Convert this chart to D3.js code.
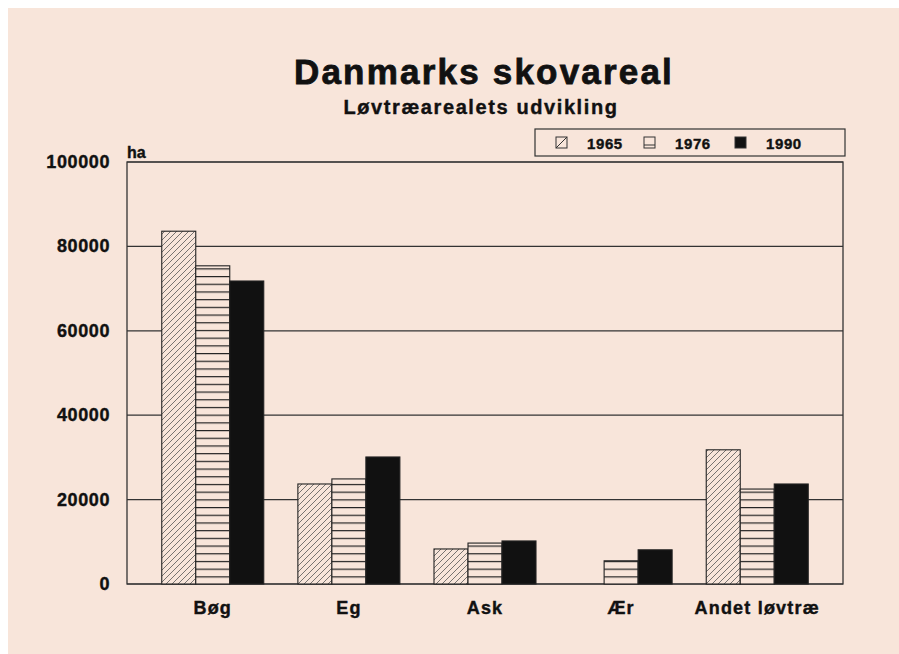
<!DOCTYPE html>
<html>
<head>
<meta charset="utf-8">
<script src="https://cdn.jsdelivr.net/npm/d3@7"></script>
<style>
  body { margin: 0; background: #fff; }
  svg { display: block; }
  text { font-family: "Liberation Sans", Arial, sans-serif; font-weight: bold; fill: #111; stroke: #111; stroke-width: 0.4; }
</style>
</head>
<body>
<svg id="chart" width="899" height="654"></svg>
<script>
// data
var categories = ['Bøg', 'Eg', 'Ask', 'Ær', 'Andet løvtræ'];
var years = ['1965', '1976', '1990'];
var v1965 = [83600, 23700, 8300, 0, 31800];
var v1976 = [75400, 24900, 9700, 5500, 22500];
var v1990 = [71800, 30100, 10200, 8100, 23700];
var yTicks = [0, 20000, 40000, 60000, 80000, 100000];

var series = [v1965, v1976, v1990];

var svg = d3.select('#chart'),
  width = 899, height = 654;

// papirfarvet baggrund
svg.append('rect')
  .attr('x', 8).attr('y', 8)
  .attr('width', width - 8).attr('height', height - 8)
  .attr('fill', '#f8e5da');

// mønstre til søjlerne
var defs = svg.append('defs');
var diag = defs.append('pattern')
  .attr('id', 'diag')
  .attr('patternUnits', 'userSpaceOnUse')
  .attr('width', 6).attr('height', 6);
diag.append('rect').attr('width', 6).attr('height', 6).attr('fill', '#f8e5da');
diag.append('path')
  .attr('d', 'M-1,7 L7,-1 M-4,4 L4,-4 M2,10 L10,2')
  .attr('stroke', '#555').attr('stroke-width', 0.8);

var horiz = defs.append('pattern')
  .attr('id', 'horiz')
  .attr('patternUnits', 'userSpaceOnUse')
  .attr('width', 8).attr('height', 7.7)
  .attr('y', 584);
horiz.append('rect').attr('width', 8).attr('height', 7.7).attr('fill', '#f8e5da');
horiz.append('line')
  .attr('x1', 0).attr('x2', 8).attr('y1', 0.6).attr('y2', 0.6)
  .attr('stroke', '#222').attr('stroke-width', 1.2);

var fills = ['url(#diag)', 'url(#horiz)', '#111'];

var plotLeft = 127, plotRight = 843, plotTop = 162, plotBottom = 584;

var x = d3.scalePoint().domain(categories).range([plotLeft, plotRight]).padding(0.63);
var xs = d3.scaleBand().domain(years).range([-51, 51]);
var y = d3.scaleLinear().domain([0, 100000]).range([plotBottom, plotTop]);

// gitterlinjer
svg.append('g')
  .selectAll('line')
  .data(yTicks)
  .join('line')
  .attr('x1', plotLeft).attr('x2', plotRight)
  .attr('y1', d => y(d)).attr('y2', d => y(d))
  .attr('stroke', '#333').attr('stroke-width', 1.2);

// ramme
svg.append('rect')
  .attr('x', plotLeft).attr('y', plotTop)
  .attr('width', plotRight - plotLeft).attr('height', plotBottom - plotTop)
  .attr('fill', 'none').attr('stroke', '#333').attr('stroke-width', 1.3);

// søjler
series.forEach(function(vals, si) {
  svg.append('g')
    .selectAll('rect')
    .data(categories.map((c, i) => ({cat: c, v: vals[i]})).filter(d => d.v > 0))
    .join('rect')
    .attr('x', d => x(d.cat) + xs(years[si]))
    .attr('y', d => y(d.v))
    .attr('width', xs.bandwidth())
    .attr('height', d => plotBottom - y(d.v))
    .attr('fill', fills[si])
    .attr('stroke', '#222').attr('stroke-width', 1.1);
});

// y-akse tekster
svg.append('g')
  .selectAll('text')
  .data(yTicks)
  .join('text')
  .attr('x', 110).attr('y', d => y(d) + 6)
  .attr('text-anchor', 'end')
  .attr('font-size', 18)
  .attr('letter-spacing', 0.6)
  .text(d => d);

svg.append('text').attr('x', 127).attr('y', 158).attr('font-size', 16).text('ha');

// x-akse tekster
svg.append('g')
  .selectAll('text')
  .data(categories)
  .join('text')
  .attr('x', d => x(d)).attr('y', 614)
  .attr('text-anchor', 'middle')
  .attr('font-size', 18)
  .attr('letter-spacing', 1.2)
  .text(d => d);

// titler
svg.append('text').attr('x', 484).attr('y', 84)
  .attr('text-anchor', 'middle').attr('font-size', 35)
  .attr('letter-spacing', 2.2)
  .style('stroke-width', 0.8)
  .text('Danmarks skovareal');
svg.append('text').attr('x', 481).attr('y', 114)
  .attr('text-anchor', 'middle').attr('font-size', 20)
  .attr('letter-spacing', 1.6)
  .text('Løvtræarealets udvikling');

// legende
var leg = svg.append('g');
leg.append('rect')
  .attr('x', 535).attr('y', 129).attr('width', 310).attr('height', 27)
  .attr('fill', 'none').attr('stroke', '#333').attr('stroke-width', 1.2);
var legX = [556, 644, 735];
years.forEach(function(yr, i) {
  leg.append('rect')
    .attr('x', legX[i]).attr('y', 137).attr('width', 11).attr('height', 11)
    .attr('fill', i === 2 ? '#111' : '#f8e5da')
    .attr('stroke', '#333').attr('stroke-width', 1);
  if (i === 0) {
    leg.append('line').attr('x1', legX[i]).attr('y1', 148).attr('x2', legX[i] + 11).attr('y2', 137)
      .attr('stroke', '#333');
  }
  if (i === 1) {
    leg.append('line').attr('x1', legX[i]).attr('y1', 145).attr('x2', legX[i] + 11).attr('y2', 145)
      .attr('stroke', '#333');
  }
  leg.append('text')
    .attr('x', legX[i] + 31).attr('y', 149)
    .attr('font-size', 15)
    .attr('letter-spacing', 0.6)
    .text(yr);
});
</script>
</body>
</html>
